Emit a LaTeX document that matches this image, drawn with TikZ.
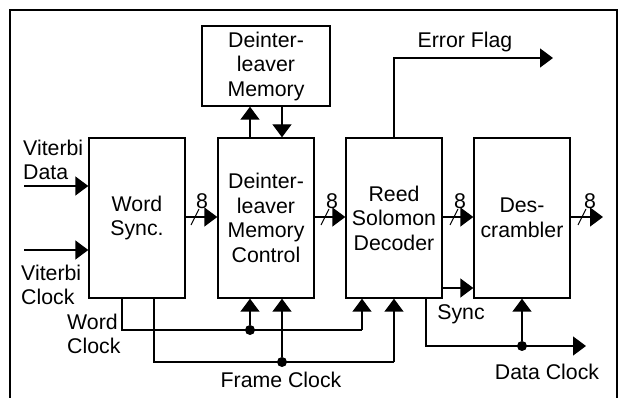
\documentclass[tikz,border=0pt]{standalone}
\usepackage{fontspec}
\setmainfont{Liberation Sans}
\usetikzlibrary{arrows.meta,calc}
\tikzset{
  blk/.style={draw,line width=1.4pt,minimum width=96pt,minimum height=160pt,align=center,inner sep=0pt},
  lbl/.style={inner sep=0pt,align=left},
  txt/.style={font=\fontsize{21.3}{24.5}\selectfont},
  wire/.style={line width=1.4pt},
  arr/.style={line width=1.4pt,-{Triangle[length=13pt,width=19pt]}},
  dotc/.style={circle,fill,inner sep=0pt,minimum size=10pt},
  slash/.style={line width=1pt}
}
\begin{document}
\begin{tikzpicture}[x=1pt,y=-1pt,txt]
\useasboundingbox (0,0) rectangle (622,398);
% frame
\draw[line width=1.3pt] (10,400) -- (10,10) -- (617,10) -- (617,400);
% blocks
\node[blk,minimum width=128pt,minimum height=80pt] (mem) at (266,66) {Deinter-\\leaver\\Memory};
\node[blk] (word) at (137,218) {Word\\Sync.};
\node[blk] (deint) at (266,218) {Deinter-\\leaver\\Memory\\Control};
\node[blk] (rs) at (394,218) {Reed\\Solomon\\Decoder};
\node[blk] (desc) at (522,218) {Des-\\crambler};
% coordinates
\coordinate (vd) at (24,186);
\coordinate (vc) at (24,250);
\coordinate (ux) at (250,0);
\coordinate (dx) at (282,0);
\coordinate (wc) at (122,330);
\coordinate (wcr) at (362,330);
\coordinate (fc) at (154,362);
\coordinate (fcr) at (394,362);
\coordinate (ef) at (394,58);
\coordinate (eft) at (553,58);
\coordinate (dc) at (426,346);
\coordinate (dct) at (586,346);
\coordinate (out) at (603,217);
\coordinate (sy) at (0,288);
% labels
\node[lbl,anchor=west] (lvd) at (23,160) {Viterbi\\Data};
\node[lbl,anchor=west] (lvc) at (21,285) {Viterbi\\Clock};
\node[lbl,anchor=west] (lwc) at (67,334) {Word\\Clock};
\node[lbl] (lfc) at (281,380) {Frame Clock};
\node[lbl] (lsy) at (461,314) {Sync};
\node[lbl] (ldc) at (547,372) {Data Clock};
\node[lbl] (lef) at (465,42) {Error Flag};
% inputs
\draw[arr] (vd) -- (vd -| word.west);
\draw[arr] (vc) -- (vc -| word.west);
% memory
\draw[arr] (deint.north -| ux) -- (mem.south -| ux);
\draw[arr] (mem.south -| dx) -- (deint.north -| dx);
% buses
\draw[arr] (word.east |- 0,217) -- (deint.west |- 0,217);
\draw[arr] (deint.east |- 0,217) -- (rs.west |- 0,217);
\draw[arr] (rs.east |- 0,217) -- (desc.west |- 0,217);
\draw[arr] (desc.east |- 0,217) -- (out);
\foreach \x/\n in {195/s1,325/s2,454/s3,582/s4}{
  \coordinate (\n) at (\x,217);
  \draw[slash] ($(\n)+(-4,8)$) -- ($(\n)+(4,-8)$);
}
\node[lbl] (b1) at (202,201) {8};
\node[lbl] (b2) at (332,201) {8};
\node[lbl] (b3) at (460,201) {8};
\node[lbl] (b4) at (590,201) {8};
% word clock
\draw[wire] (word.south -| wc) -- (wc) -- (wcr) ;
\draw[arr] (wcr) -- (rs.south -| wcr);
\node[dotc] (d1) at (250,330) {};
\draw[arr] (d1) -- (deint.south -| d1);
% frame clock
\draw[wire] (word.south -| fc) -- (fc) -- (fcr);
\draw[arr] (fcr) -- (rs.south -| fcr);
\node[dotc] (d2) at (282,362) {};
\draw[arr] (d2) -- (deint.south -| d2);
% error flag
\draw[arr] (rs.north -| ef) -- (ef) -- (eft);
% sync
\draw[arr] (rs.east |- sy) -- (desc.west |- sy);
% data clock
\draw[arr] (rs.south -| dc) -- (dc) -- (dct);
\node[dotc] (d3) at (522,346) {};
\draw[arr] (d3) -- (desc.south -| d3);
\end{tikzpicture}
\end{document}
